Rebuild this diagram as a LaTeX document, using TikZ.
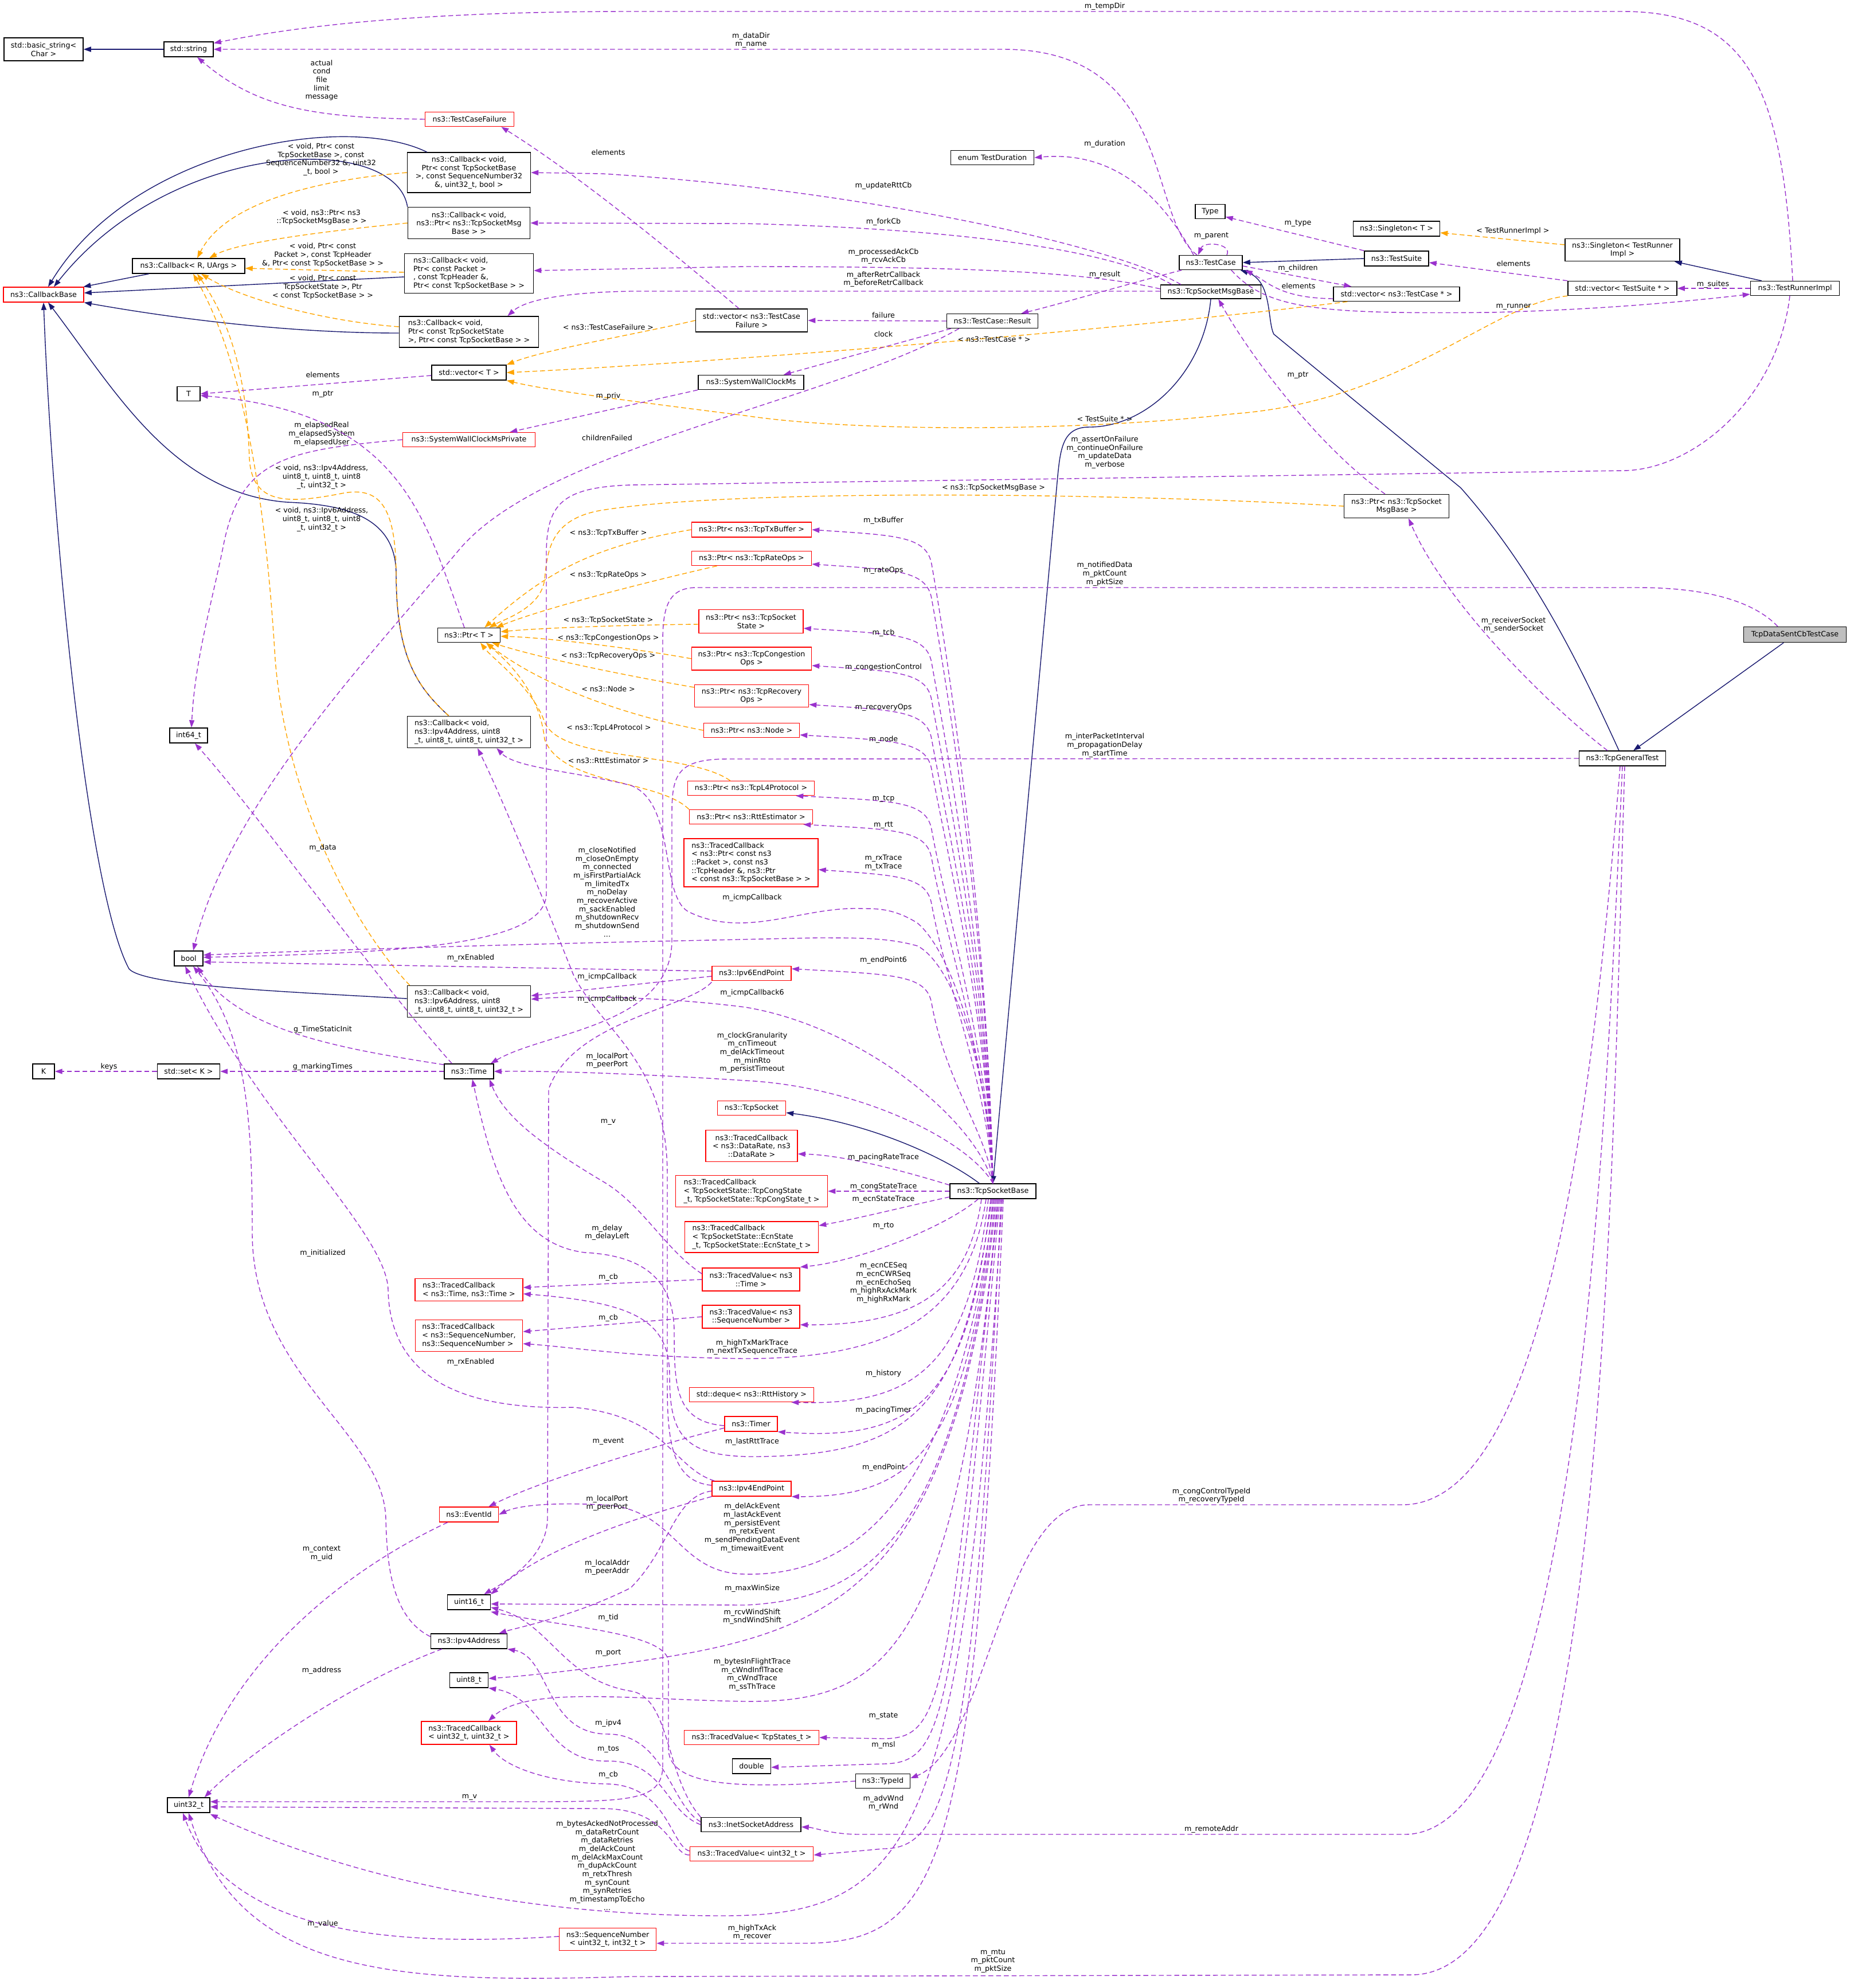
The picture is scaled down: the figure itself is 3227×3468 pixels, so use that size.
\documentclass[tikz,border=0pt]{standalone}
\usepackage{fontspec}
\setmainfont{DejaVu Sans}
\usepackage{tikz}
\usetikzlibrary{calc,arrows.meta}
\definecolor{edgeblue}{HTML}{191970}
\definecolor{edgepurple}{HTML}{9A32CD}
\definecolor{edgeorange}{HTML}{FFA500}
\definecolor{boxred}{HTML}{FF0000}
\definecolor{boxgray}{HTML}{BFBFBF}
\newcommand{\gvfont}{\fontsize{3.6pt}{4.17pt}\selectfont}
\tikzset{
    >={Triangle[length=0.13cm,width=0.09cm]},
    sz/.style 2 args={minimum width=#1cm, minimum height=#2cm},
    cls/.style={
      rectangle,
      draw=black, line width=0.4pt,
      inner sep=0pt,
      font=\gvfont,
      align=center},
    clsred/.style={cls, draw=boxred},
    clsmain/.style={cls, fill=boxgray},
    lbl/.style={font=\gvfont, align=center, inner sep=0pt},
    inherit/.style={draw=edgeblue, line width=0.4pt, ->},
    member/.style={draw=edgepurple, line width=0.4pt, dash pattern=on 0.085cm off 0.05cm, ->},
    templ/.style={draw=edgeorange, line width=0.4pt, dash pattern=on 0.085cm off 0.05cm, ->},
}
\begin{document}
\begin{tikzpicture}[x=0.01cm, y=-0.01cm]
\useasboundingbox (0,0) rectangle (3227,3468);
% classes, left part
\node[cls, sz={1.38}{0.40}] (basicstr) at (76,86) {std::basic\_string<\\Char >};
\node[cls, sz={0.86}{0.26}] (str) at (329,86) {std::string};
\node[clsred, sz={1.55}{0.25}] (tcfail) at (819,208) {ns3::TestCaseFailure};
\node[cls, sz={2.15}{0.70}] (cbseq) at (818,301) {ns3::Callback< void,\\Ptr< const TcpSocketBase\\>, const SequenceNumber32\\\&, uint32\_t, bool >};
\node[cls, sz={2.13}{0.55}] (cbmsg) at (818,389) {ns3::Callback< void,\\ns3::Ptr< ns3::TcpSocketMsg\\Base > >};
\node[cls, sz={1.96}{0.26}] (cbgen) at (329,464) {ns3::Callback< R, UArgs >};
\node[cls, sz={2.25}{0.69}, align=left] (cbpkt) at (818,477) {ns3::Callback< void,\\ Ptr< const Packet >\\, const TcpHeader \&,\\ Ptr< const TcpSocketBase > >};
\node[clsred, sz={1.40}{0.26}] (cbbase) at (76,514) {ns3::CallbackBase};
\node[cls, sz={2.43}{0.54}, align=left] (cbstate) at (818,579) {ns3::Callback< void,\\ Ptr< const TcpSocketState\\ >, Ptr< const TcpSocketBase > >};
\node[cls, sz={1.30}{0.26}] (vecT) at (818,650) {std::vector< T >};
\node[cls, sz={0.40}{0.25}] (tT) at (329,687) {T};
\node[clsred, sz={2.31}{0.25}] (swcpriv) at (818,767) {ns3::SystemWallClockMsPrivate};
\node[cls, sz={1.09}{0.25}] (ptrT) at (818,1108) {ns3::Ptr< T >};
\node[cls, sz={0.66}{0.26}] (int64) at (329,1283) {int64\_t};
\node[cls, sz={2.15}{0.55}, align=left] (cbipv4) at (818,1277) {ns3::Callback< void,\\ ns3::Ipv4Address, uint8\\\_t, uint8\_t, uint8\_t, uint32\_t >};
\node[cls, sz={0.50}{0.26}] (bool) at (329,1672) {bool};
\node[cls, sz={2.15}{0.55}, align=left] (cbipv6) at (818,1747) {ns3::Callback< void,\\ ns3::Ipv6Address, uint8\\\_t, uint8\_t, uint8\_t, uint32\_t >};
\node[cls, sz={0.38}{0.26}] (K) at (76,1869) {K};
\node[cls, sz={1.09}{0.26}] (setK) at (329,1869) {std::set< K >};
\node[cls, sz={0.86}{0.26}] (time) at (818,1869) {ns3::Time};
\node[clsred, sz={1.88}{0.39}, align=left] (tcbtime) at (818,2250) {ns3::TracedCallback\\< ns3::Time, ns3::Time >};
\node[clsred, sz={1.87}{0.55}, align=left] (tcbseq) at (818,2330) {ns3::TracedCallback\\< ns3::SequenceNumber,\\ns3::SequenceNumber >};
\node[clsred, sz={1.03}{0.26}] (eventid) at (818,2642) {ns3::EventId};
\node[cls, sz={0.75}{0.26}] (uint16) at (818,2795) {uint16\_t};
\node[cls, sz={1.33}{0.26}] (ipv4addr) at (818,2863) {ns3::Ipv4Address};
\node[cls, sz={0.67}{0.26}] (uint8) at (818,2931) {uint8\_t};
\node[clsred, sz={1.66}{0.40}, align=left] (tcbu32) at (818,3023) {ns3::TracedCallback\\< uint32\_t, uint32\_t >};
\node[cls, sz={0.74}{0.26}] (uint32) at (329,3149) {uint32\_t};
\node[clsred, sz={1.69}{0.39}] (seqnum) at (1060,3383) {ns3::SequenceNumber\\< uint32\_t, int32\_t >};
% classes, middle column
\node[cls, sz={1.95}{0.40}] (vectcf) at (1311,559) {std::vector< ns3::TestCase\\Failure >};
\node[cls, sz={1.84}{0.25}] (swc) at (1310,667) {ns3::SystemWallClockMs};
\node[clsred, sz={2.09}{0.26}] (ptrtx) at (1311,924) {ns3::Ptr< ns3::TcpTxBuffer >};
\node[clsred, sz={2.09}{0.25}] (ptrrate) at (1311,974) {ns3::Ptr< ns3::TcpRateOps >};
\node[clsred, sz={1.82}{0.41}] (ptrstate) at (1310,1084) {ns3::Ptr< ns3::TcpSocket\\State >};
\node[clsred, sz={2.09}{0.40}] (ptrcong) at (1311,1149) {ns3::Ptr< ns3::TcpCongestion\\Ops >};
\node[clsred, sz={1.99}{0.39}] (ptrrec) at (1311,1214) {ns3::Ptr< ns3::TcpRecovery\\Ops >};
\node[clsred, sz={1.67}{0.25}] (ptrnode) at (1311,1274) {ns3::Ptr< ns3::Node >};
\node[clsred, sz={2.21}{0.25}] (ptrl4) at (1310,1375) {ns3::Ptr< ns3::TcpL4Protocol >};
\node[clsred, sz={2.15}{0.25}] (ptrrtt) at (1310,1425) {ns3::Ptr< ns3::RttEstimator >};
\node[clsred, sz={2.34}{0.84}, align=left] (tcbpkt) at (1310,1505) {ns3::TracedCallback\\< ns3::Ptr< const ns3\\::Packet >, const ns3\\::TcpHeader \&, ns3::Ptr\\< const ns3::TcpSocketBase > >};
\node[clsred, sz={1.38}{0.25}] (ipv6ep) at (1311,1698) {ns3::Ipv6EndPoint};
\node[clsred, sz={1.19}{0.25}] (tcpsock) at (1311,1933) {ns3::TcpSocket};
\node[clsred, sz={1.60}{0.55}] (tcbrate) at (1311,1999) {ns3::TracedCallback\\< ns3::DataRate, ns3\\::DataRate >};
\node[clsred, sz={2.65}{0.55}, align=left] (tcbcong) at (1311,2078) {ns3::TracedCallback\\< TcpSocketState::TcpCongState\\\_t, TcpSocketState::TcpCongState\_t >};
\node[clsred, sz={2.33}{0.54}, align=left] (tcbecn) at (1311,2158) {ns3::TracedCallback\\< TcpSocketState::EcnState\\\_t, TcpSocketState::EcnState\_t >};
\node[clsred, sz={1.70}{0.40}] (tvtime) at (1310,2232) {ns3::TracedValue< ns3\\::Time >};
\node[clsred, sz={1.70}{0.40}] (tvseq) at (1310,2297) {ns3::TracedValue< ns3\\::SequenceNumber >};
\node[clsred, sz={2.17}{0.25}] (deque) at (1311,2433) {std::deque< ns3::RttHistory >};
\node[clsred, sz={0.92}{0.26}] (timer) at (1310,2484) {ns3::Timer};
\node[clsred, sz={1.38}{0.26}] (ipv4ep) at (1311,2597) {ns3::Ipv4EndPoint};
\node[clsred, sz={2.35}{0.25}] (tvstates) at (1311,3031) {ns3::TracedValue< TcpStates\_t >};
\node[cls, sz={0.67}{0.26}] (double) at (1311,3081) {double};
\node[cls, sz={1.74}{0.25}] (inetaddr) at (1310,3183) {ns3::InetSocketAddress};
\node[clsred, sz={2.15}{0.25}] (tvu32) at (1311,3234) {ns3::TracedValue< uint32\_t >};
% classes, right part
\node[cls, sz={1.45}{0.25}] (duration) at (1731,275) {enum TestDuration};
\node[cls, sz={1.59}{0.25}] (result) at (1731,560) {ns3::TestCase::Result};
\node[cls, sz={1.50}{0.26}] (tsb) at (1732,2078) {ns3::TcpSocketBase};
\node[cls, sz={0.95}{0.25}] (typeid) at (1540,3107) {ns3::TypeId};
\node[cls, sz={0.52}{0.25}] (Type) at (2111,369) {Type};
\node[cls, sz={1.10}{0.25}] (testcase) at (2112,458) {ns3::TestCase};
\node[cls, sz={1.75}{0.24}] (msgbase) at (2112,509) {ns3::TcpSocketMsgBase};
\node[cls, sz={1.51}{0.26}] (singT) at (2436,399) {ns3::Singleton< T >};
\node[cls, sz={1.12}{0.26}] (testsuite) at (2436,451) {ns3::TestSuite};
\node[cls, sz={2.20}{0.25}] (vectc) at (2436,513) {std::vector< ns3::TestCase * >};
\node[cls, sz={1.83}{0.41}] (ptrmsg) at (2436,883) {ns3::Ptr< ns3::TcpSocket\\MsgBase >};
\node[cls, sz={2.00}{0.39}] (singR) at (2830,436) {ns3::Singleton< TestRunner\\Impl >};
\node[cls, sz={1.90}{0.25}] (vects) at (2830,503) {std::vector< TestSuite * >};
\node[cls, sz={1.51}{0.26}] (gentest) at (2830,1323) {ns3::TcpGeneralTest};
\node[cls, sz={1.55}{0.25}] (runner) at (3131,503) {ns3::TestRunnerImpl};
\node[clsmain, sz={1.79}{0.27}] (sentcb) at (3131,1107) {TcpDataSentCbTestCase};
% inheritance
\draw[inherit] (str.west) -- (basicstr.east);
\draw[inherit] (cbgen) -- (cbbase);
\draw[inherit] ($(cbseq.north west)+(35,0)$) .. controls (600,195) and (230,260) .. ($(cbbase.north)+(8,0)$);
\draw[inherit] (cbmsg.north west) .. controls (690,230) and (300,240) .. ($(cbbase.north)+(18,0)$);
\draw[inherit] ($(cbpkt.west)+(0,6)$) -- ($(cbbase.east)+(0,-3)$);
\draw[inherit] ($(cbstate.west)+(0,2)$) .. controls (500,581) and (300,555) .. (cbbase.south east);
\draw[inherit] ($(cbipv4.north west)+(73,0)$) .. controls (730,1200) and (691,1150) .. (691,1000) .. controls (690,900) and (600,880) .. (500,876) .. controls (300,860) and (200,680) .. ($(cbbase.south)+(8,0)$);
\draw[inherit] ($(cbipv6.west)+(0,-5)$) .. controls (500,1730) and (250,1720) .. (225,1690) .. controls (150,1550) and (90,900) .. (cbbase.south);
\draw[inherit] ($(tsb.north west)+(52,0)$) .. controls (1650,2020) and (1520,1960) .. ($(tcpsock.east)+(0,8)$);
\draw[inherit] (msgbase.south) .. controls (2100,650) and (2000,745) .. (1900,745) .. controls (1855,745) and (1850,780) .. (1845,830) -- (tsb.north);
\draw[inherit] (testsuite.west) -- (testcase.east);
\draw[inherit] ($(gentest.north)+(-6,0)$) .. controls (2760,1170) and (2680,1000) .. (2548,851) -- (2222,583) .. controls (2210,560) and (2220,490) .. ($(testcase.south east)+(-4,0)$);
\draw[inherit] (sentcb) -- (gentest);
\draw[inherit] ($(runner.north west)+(20,0)$) -- ($(singR.south east)+(-10,0)$);
% template instances
\draw[templ] (cbseq.west) .. controls (600,310) and (400,340) .. ($(cbgen.north)+(15,0)$) node[lbl] at (560,278) {< void, Ptr< const\\TcpSocketBase >, const\\SequenceNumber32 \&, uint32\\\_t, bool >};
\draw[templ] (cbmsg.west) .. controls (600,400) and (420,420) .. ($(cbgen.north)+(36,0)$) node[lbl] at (561,379) {< void, ns3::Ptr< ns3\\::TcpSocketMsgBase > >};
\draw[templ] ($(cbpkt.west)+(0,-2)$) -- ($(cbgen.east)+(0,4)$) node[lbl] at (563,445) {< void, Ptr< const\\Packet >, const TcpHeader\\\&, Ptr< const TcpSocketBase > >};
\draw[templ] ($(cbstate.west)+(0,-9)$) .. controls (560,560) and (420,520) .. ($(cbgen.south)+(22,0)$) node[lbl] at (563,501) {< void, Ptr< const\\TcpSocketState >, Ptr\\< const TcpSocketBase > >};
\draw[templ] ($(cbipv4.north west)+(73,0)$) .. controls (730,1200) and (692,1150) .. (691,1000) .. controls (690,880) and (660,850) .. (600,860) .. controls (500,880) and (440,880) .. (435,800) .. controls (430,650) and (400,560) .. ($(cbgen.south)+(15,0)$) node[lbl] at (561,832) {< void, ns3::Ipv4Address,\\uint8\_t, uint8\_t, uint8\\\_t, uint32\_t >};
\draw[templ] ($(cbipv6.north west)+(5,0)$) .. controls (620,1620) and (500,1400) .. (480,1150) .. controls (465,900) and (430,640) .. ($(cbgen.south)+(8,0)$) node[lbl] at (561,906) {< void, ns3::Ipv6Address,\\uint8\_t, uint8\_t, uint8\\\_t, uint32\_t >};
\draw[templ] (vectcf.west) .. controls (1100,585) and (950,610) .. (vecT.north east) node[lbl] at (1061,571) {< ns3::TestCaseFailure >};
\draw[templ] ($(vectc.south west)+(25,0)$) .. controls (2000,570) and (1300,630) .. (vecT.east) node[lbl] at (1734,592) {< ns3::TestCase * >};
\draw[templ] (vects.south west) .. controls (2600,530) and (2450,700) .. (2150,722) .. controls (1900,752) and (1500,755) .. (1300,725) .. controls (1100,700) and (950,680) .. (vecT.south east) node[lbl] at (1927,731) {< TestSuite * >};
\draw[templ] ($(singR.west)+(0,-9)$) -- ($(singT.east)+(0,7)$) node[lbl] at (2639,403) {< TestRunnerImpl >};
\draw[templ] (ptrmsg.west) .. controls (2000,862) and (1300,850) .. (1050,890) .. controls (960,905) and (955,960) .. (950,1010) .. controls (945,1060) and (880,1080) .. ($(ptrT.north east)+(-20,0)$) node[lbl] at (1733,851) {< ns3::TcpSocketMsgBase >};
\draw[templ] (ptrtx.west) .. controls (1050,950) and (960,990) .. ($(ptrT.north east)+(-28,0)$) node[lbl] at (1061,930) {< ns3::TcpTxBuffer >};
\draw[templ] ($(ptrrate.south west)+(45,0)$) .. controls (1150,1010) and (950,1060) .. ($(ptrT.north east)+(-8,0)$) node[lbl] at (1061,1003) {< ns3::TcpRateOps >};
\draw[templ] ($(ptrstate.west)+(0,5)$) .. controls (1100,1090) and (950,1095) .. ($(ptrT.east)+(0,-6)$) node[lbl] at (1061,1082) {< ns3::TcpSocketState >};
\draw[templ] (ptrcong.west) .. controls (1100,1130) and (950,1112) .. ($(ptrT.east)+(0,2)$) node[lbl] at (1061,1113) {< ns3::TcpCongestionOps >};
\draw[templ] ($(ptrrec.west)+(0,-15)$) .. controls (1100,1180) and (950,1150) .. ($(ptrT.south east)+(-15,0)$) node[lbl] at (1061,1144) {< ns3::TcpRecoveryOps >};
\draw[templ] (ptrnode.west) .. controls (1100,1250) and (950,1200) .. ($(ptrT.south east)+(-25,0)$) node[lbl] at (1061,1202) {< ns3::Node >};
\draw[templ] ($(ptrl4.north west)+(75,0)$) .. controls (1200,1310) and (980,1330) .. (950,1260) .. controls (930,1200) and (860,1150) .. ($(ptrT.south)+(20,0)$) node[lbl] at (1062,1270) {< ns3::TcpL4Protocol >};
\draw[templ] (ptrrtt.north west) .. controls (1150,1360) and (980,1370) .. (950,1290) .. controls (940,1200) and (880,1150) .. ($(ptrT.south)+(30,0)$) node[lbl] at (1061,1327) {< ns3::RttEstimator >};
% members, test framework
\draw[member] (tcfail.west) .. controls (550,205) and (450,190) .. ($(str.south)+(15,0)$) node[lbl] at (561,140) {actual\\cond\\file\\limit\\message};
\draw[member] ($(testcase.north)+(-24,0)$) .. controls (2000,380) and (2050,86) .. (1750,86) -- (str.east) node[lbl] at (1310,70) {m\_dataDir\\m\_name};
\draw[member] ($(runner.north)+(-4,0)$) .. controls (3110,150) and (3050,20) .. (2830,20) -- (1100,20) .. controls (700,20) and (500,50) .. ($(str.north east)+(0,3)$) node[lbl] at (1927,11) {m\_tempDir};
\draw[member] ($(testcase.north)+(-30,0)$) .. controls (2030,350) and (1950,262) .. (duration.east) node[lbl] at (1927,251) {m\_duration};
\draw[member] (testsuite.north west) -- ($(Type.south east)+(0,-4)$) node[lbl] at (2264,390) {m\_type};
\draw[member] ($(testcase.north)+(28,0)$) .. controls (2150,425) and (2100,420) .. ($(testcase.north)+(-22,0)$) node[lbl] at (2113,412) {m\_parent};
\draw[member] ($(testcase.east)+(0,6)$) -- ($(vectc.north west)+(32,0)$) node[lbl] at (2264,468) {m\_children};
\draw[member] ($(vectc.west)+(0,8)$) .. controls (2230,520) and (2210,490) .. ($(testcase.south east)+(4,0)$) node[lbl] at (2265,499) {elements};
\draw[member] ($(testcase.south west)+(5,0)$) .. controls (1950,500) and (1850,530) .. ($(result.north east)+(-30,0)$) node[lbl] at (1927,479) {m\_result};
\draw[member] ($(testcase.south east)+(-20,0)$) .. controls (2210,540) and (2300,548) .. (2600,545) .. controls (2800,540) and (2950,525) .. ($(runner.south west)+(0,-3)$) node[lbl] at (2640,535) {m\_runner};
\draw[member] (runner.west) -- (vects.east) node[lbl] at (2988,496) {m\_suites};
\draw[member] (vects.north west) -- ($(testsuite.east)+(0,7)$) node[lbl] at (2640,460) {elements};
\draw[member] (result.west) -- (vectcf.east) node[lbl] at (1541,550) {failure};
\draw[member] ($(result.south west)+(8,0)$) -- ($(swc.north east)+(-36,0)$) node[lbl] at (1541,583) {clock};
\draw[member] ($(result.south west)+(22,0)$) .. controls (1450,700) and (950,780) .. (800,960) .. controls (650,1140) and (400,1400) .. ($(bool.north)+(8,0)$) node[lbl] at (1059,764) {childrenFailed};
\draw[member] (swc.south west) -- ($(swcpriv.north east)+(-45,0)$) node[lbl] at (1061,691) {m\_priv};
\draw[member] (swcpriv.west) .. controls (500,785) and (420,800) .. (390,950) .. controls (370,1050) and (340,1150) .. ($(int64.north)+(5,0)$) node[lbl] at (561,757) {m\_elapsedReal\\m\_elapsedSystem\\m\_elapsedUser};
\draw[member] ($(vectcf.north)+(-22,0)$) .. controls (1150,420) and (1000,300) .. ($(tcfail.south east)+(-23,0)$) node[lbl] at (1061,266) {elements};
\draw[member] ($(vecT.west)+(0,5)$) -- (tT.east) node[lbl] at (563,654) {elements};
\draw[member] ($(ptrT.north)+(-8,0)$) .. controls (740,900) and (700,720) .. ($(tT.east)+(0,3)$) node[lbl] at (563,688) {m\_ptr};
\draw[member] ($(runner.south)+(-9,0)$) .. controls (3100,700) and (2950,821) .. (2830,821) -- (1100,846) .. controls (980,850) and (955,880) .. (953,960) -- (953,1560) .. controls (950,1650) and (700,1662) .. ($(bool.east)+(0,-2)$) node[lbl] at (1927,789) {m\_assertOnFailure\\m\_continueOnFailure\\m\_updateData\\m\_verbose};
% members, socket message base and tests
\draw[member] ($(msgbase.north west)+(36,0)$) .. controls (1950,430) and (1500,330) .. (1050,303) -- (cbseq.east) node[lbl] at (1541,324) {m\_updateRttCb};
\draw[member] ($(msgbase.north west)+(20,0)$) .. controls (1950,440) and (1700,400) .. (1300,390) -- (cbmsg.east) node[lbl] at (1541,387) {m\_forkCb};
\draw[member] ($(msgbase.west)+(0,-5)$) .. controls (1900,475) and (1700,465) .. (1300,465) -- ($(cbpkt.east)+(0,-5)$) node[lbl] at (1541,447) {m\_processedAckCb\\m\_rcvAckCb};
\draw[member] ($(msgbase.west)+(0,-1)$) -- (1100,508) .. controls (1000,510) and (920,520) .. ($(cbstate.north east)+(-55,0)$) node[lbl] at (1541,487) {m\_afterRetrCallback\\m\_beforeRetrCallback};
\draw[member] ($(ptrmsg.north)+(-20,0)$) .. controls (2300,780) and (2180,620) .. ($(msgbase.south east)+(-75,0)$) node[lbl] at (2264,655) {m\_ptr};
\draw[member] ($(gentest.north)+(-26,0)$) .. controls (2700,1230) and (2520,1050) .. ($(ptrmsg.south)+(21,0)$) node[lbl] at (2640,1090) {m\_receiverSocket\\m\_senderSocket};
\draw[member] ($(sentcb.north)+(-30,0)$) .. controls (3060,1050) and (2980,1025) .. (2857,1025) -- (1215,1025) .. controls (1165,1025) and (1156,1060) .. (1156,1120) -- (1156,3080) .. controls (1156,3140) and (1100,3142) .. (950,3143) -- ($(uint32.east)+(0,-6)$) node[lbl] at (1927,1001) {m\_notifiedData\\m\_pktCount\\m\_pktSize};
\draw[member] (gentest.west) -- (1270,1324) .. controls (1182,1324) and (1172,1350) .. (1172,1420) -- (1172,1640) .. controls (1172,1790) and (950,1800) .. ($(time.north east)+(-6,0)$) node[lbl] at (1927,1300) {m\_interPacketInterval\\m\_propagationDelay\\m\_startTime};
% members, time and endpoints
\draw[member] (time.west) -- (setK.east) node[lbl] at (563,1861) {g\_markingTimes};
\draw[member] (setK.west) -- (K.east) node[lbl] at (190,1861) {keys};
\draw[member] ($(time.north west)+(0,2)$) .. controls (600,1830) and (420,1800) .. ($(bool.south)+(15,0)$) node[lbl] at (563,1796) {g\_TimeStaticInit};
\draw[member] ($(time.north west)+(14,0)$) .. controls (650,1700) and (450,1420) .. ($(int64.south)+(11,0)$) node[lbl] at (563,1479) {m\_data};
\draw[member] ($(ipv6ep.west)+(0,-4)$) .. controls (1100,1692) and (600,1682) .. ($(bool.east)+(0,6)$) node[lbl] at (821,1671) {m\_rxEnabled};
\draw[member] ($(ipv6ep.west)+(0,5)$) -- ($(cbipv6.east)+(0,-10)$) node[lbl] at (1059,1704) {m\_icmpCallback};
\draw[member] ($(ipv6ep.south west)+(0,2)$) .. controls (1200,1760) and (1000,1780) .. (957,1900) -- (955,2650) .. controls (953,2720) and (880,2760) .. ($(uint16.north east)+(-12,0)$) node[lbl] at (1059,1850) {m\_localPort\\m\_peerPort};
% members of the socket, upwards
\draw[member] (tsb.north) .. controls (1722,1594) and (1650,1124) .. (1625,984) .. controls (1616,934) and (1560,934) .. (ptrtx.east) node[lbl] at (1541,908) {m\_txBuffer};
\draw[member] (tsb.north) .. controls (1722,1624) and (1650,1184) .. (1625,1044) .. controls (1616,994) and (1560,994) .. ($(ptrrate.east)+(0,10)$) node[lbl] at (1541,995) {m\_rateOps};
\draw[member] (tsb.north) .. controls (1722,1680) and (1650,1296) .. (1625,1156) .. controls (1616,1106) and (1560,1106) .. ($(ptrstate.east)+(0,12)$) node[lbl] at (1541,1104) {m\_tcb};
\draw[member] (tsb.north) .. controls (1722,1713) and (1650,1361) .. (1625,1221) .. controls (1616,1171) and (1560,1171) .. ($(ptrcong.east)+(0,12)$) node[lbl] at (1541,1164) {m\_congestionControl};
\draw[member] (tsb.north) .. controls (1722,1747) and (1650,1429) .. (1625,1289) .. controls (1616,1239) and (1560,1239) .. ($(ptrrec.east)+(0,15)$) node[lbl] at (1541,1234) {m\_recoveryOps};
\draw[member] (tsb.north) .. controls (1722,1773) and (1650,1482) .. (1625,1342) .. controls (1616,1292) and (1560,1292) .. ($(ptrnode.east)+(0,8)$) node[lbl] at (1541,1290) {m\_node};
\draw[member] (tsb.north) .. controls (1722,1826) and (1650,1587) .. (1625,1447) .. controls (1616,1397) and (1560,1397) .. ($(ptrl4.south east)+(-33,0)$) node[lbl] at (1541,1394) {m\_tcp};
\draw[member] (tsb.north) .. controls (1722,1851) and (1650,1637) .. (1625,1497) .. controls (1616,1447) and (1560,1447) .. ($(ptrrtt.south east)+(-17,0)$) node[lbl] at (1541,1440) {m\_rtt};
\draw[member] (tsb.north) .. controls (1722,1891) and (1650,1717) .. (1625,1577) .. controls (1616,1527) and (1560,1527) .. ($(tcbpkt.east)+(0,12)$) node[lbl] at (1541,1505) {m\_rxTrace\\m\_txTrace};
\draw[member] (tsb.north) .. controls (1722,1850) and (1660,1660) .. (1600,1610) .. controls (1560,1585) and (1530,1585) .. (1506,1585) .. controls (1400,1580) and (1300,1640) .. (1200,1590) .. controls (1150,1560) and (1180,1400) .. (1100,1370) .. controls (1000,1345) and (900,1340) .. ($(cbipv4.south east)+(-60,0)$) node[lbl] at (1312,1566) {m\_icmpCallback};
\draw[member] (tsb.north) .. controls (1722,1850) and (1660,1680) .. (1600,1650) .. controls (1550,1636) and (1500,1636) .. (1425,1636) -- (1100,1643) .. controls (800,1650) and (500,1660) .. ($(bool.east)+(0,-6)$) node[lbl] at (1059,1556) {m\_closeNotified\\m\_closeOnEmpty\\m\_connected\\m\_isFirstPartialAck\\m\_limitedTx\\m\_noDelay\\m\_recoverActive\\m\_sackEnabled\\m\_shutdownRecv\\m\_shutdownSend\\...};
\draw[member] (tsb.north) .. controls (1722,1977) and (1650,1890) .. (1625,1750) .. controls (1616,1700) and (1560,1700) .. ($(ipv6ep.east)+(0,-8)$) node[lbl] at (1541,1675) {m\_endPoint6};
\draw[member] (tsb.north) .. controls (1700,1950) and (1500,1790) .. (1300,1757) .. controls (1150,1738) and (1000,1737) .. ($(cbipv6.east)+(0,-4)$) node[lbl] at (1312,1732) {m\_icmpCallback6};
\draw[member] (tsb.north) .. controls (1690,1990) and (1500,1895) .. (1300,1885) .. controls (1100,1872) and (950,1868) .. (time.east) node[lbl] at (1312,1836) {m\_clockGranularity\\m\_cnTimeout\\m\_delAckTimeout\\m\_minRto\\m\_persistTimeout};
% members of the socket, sideways and downwards
\draw[member] ($(tsb.north west)+(0,3)$) .. controls (1600,2050) and (1480,2015) .. ($(tcbrate.east)+(0,14)$) node[lbl] at (1541,2019) {m\_pacingRateTrace};
\draw[member] (tsb.west) -- (tcbcong.east) node[lbl] at (1541,2070) {m\_congStateTrace};
\draw[member] ($(tsb.west)+(0,10)$) .. controls (1600,2100) and (1500,2125) .. ($(tcbecn.east)+(0,-20)$) node[lbl] at (1541,2092) {m\_ecnStateTrace};
\draw[member] ($(tsb.south west)+(50,0)$) .. controls (1650,2140) and (1500,2200) .. ($(tvtime.north east)+(0,-1)$) node[lbl] at (1541,2139) {m\_rto};
\draw[member] ($(tsb.south)+(-20,0)$) .. controls (1690,2250) and (1600,2312) .. ($(tvseq.east)+(0,14)$) node[lbl] at (1541,2238) {m\_ecnCESeq\\m\_ecnCWRSeq\\m\_ecnEchoSeq\\m\_highRxAckMark\\m\_highRxMark};
\draw[member] ($(tsb.south)+(-12,0)$) .. controls (1690,2300) and (1550,2370) .. (1300,2370) .. controls (1100,2368) and (1000,2350) .. ($(tcbseq.east)+(0,14)$) node[lbl] at (1312,2350) {m\_highTxMarkTrace\\m\_nextTxSequenceTrace};
\draw[member] ($(tsb.south)+(-8,0)$) .. controls (1690,2380) and (1600,2452) .. ($(deque.south east)+(-40,0)$) node[lbl] at (1541,2396) {m\_history};
\draw[member] ($(tsb.south)+(-4,0)$) .. controls (1690,2440) and (1600,2515) .. (timer.south east) node[lbl] at (1541,2460) {m\_pacingTimer};
\draw[member] ($(tsb.south)+(-2,0)$) .. controls (1680,2450) and (1600,2541) .. (1310,2541) .. controls (1190,2540) and (1168,2500) .. (1168,2400) .. controls (1168,2300) and (1100,2272) .. ($(tcbtime.east)+(0,7)$) node[lbl] at (1312,2515) {m\_lastRttTrace};
\draw[member] (tsb.south) .. controls (1690,2520) and (1600,2612) .. (ipv4ep.south east) node[lbl] at (1541,2560) {m\_endPoint};
\draw[member] ($(tsb.south)+(2,0)$) .. controls (1670,2600) and (1500,2750) .. (1300,2746) .. controls (1180,2745) and (1180,2630) .. (1050,2625) .. controls (950,2620) and (900,2628) .. (eventid.east) node[lbl] at (1312,2665) {m\_delAckEvent\\m\_lastAckEvent\\m\_persistEvent\\m\_retxEvent\\m\_sendPendingDataEvent\\m\_timewaitEvent};
\draw[member] ($(tsb.south)+(4,0)$) .. controls (1670,2700) and (1500,2790) .. (1300,2800) -- ($(uint16.east)+(0,3)$) node[lbl] at (1312,2771) {m\_maxWinSize};
\draw[member] ($(tsb.south)+(6,0)$) .. controls (1665,2780) and (1450,2850) .. (1100,2900) .. controls (1000,2915) and (900,2925) .. ($(uint8.east)+(0,-3)$) node[lbl] at (1312,2820) {m\_rcvWindShift\\m\_sndWindShift};
\draw[member] ($(tsb.south)+(8,0)$) .. controls (1670,2880) and (1550,2970) .. (1300,2968) .. controls (1100,2965) and (920,2940) .. ($(tcbu32.north east)+(-50,0)$) node[lbl] at (1312,2921) {m\_bytesInFlightTrace\\m\_cWndInflTrace\\m\_cWndTrace\\m\_ssThTrace};
\draw[member] ($(tsb.south)+(10,0)$) .. controls (1650,2950) and (1650,3033) .. (1541,3033) -- (tvstates.east) node[lbl] at (1541,2994) {m\_state};
\draw[member] ($(tsb.south)+(12,0)$) .. controls (1660,3000) and (1650,3075) .. (1541,3077) -- ($(double.east)+(0,2)$) node[lbl] at (1541,3044) {m\_msl};
\draw[member] ($(tsb.south)+(14,0)$) .. controls (1700,3100) and (1650,3225) .. (1541,3225) -- ($(tvu32.east)+(0,2)$) node[lbl] at (1541,3145) {m\_advWnd\\m\_rWnd};
\draw[member] ($(tsb.south)+(16,0)$) .. controls (1680,3200) and (1600,3342) .. (1260,3342) .. controls (900,3342) and (600,3270) .. ($(uint32.south east)+(0,2)$) node[lbl] at (1059,3254) {m\_bytesAckedNotProcessed\\m\_dataRetrCount\\m\_dataRetries\\m\_delAckCount\\m\_delAckMaxCount\\m\_dupAckCount\\m\_retxThresh\\m\_synCount\\m\_synRetries\\m\_timestampToEcho\\...};
\draw[member] ($(tsb.south)+(18,0)$) .. controls (1700,3250) and (1650,3390) .. (1400,3390) -- ($(seqnum.east)+(0,7)$) node[lbl] at (1312,3371) {m\_highTxAck\\m\_recover};
% members of the general test, downwards
\draw[member] ($(gentest.south)+(-4,0)$) .. controls (2780,1900) and (2700,2625) .. (2446,2625) -- (1900,2625) .. controls (1750,2625) and (1720,3050) .. ($(typeid.east)+(0,-5)$) node[lbl] at (2113,2609) {m\_congControlTypeId\\m\_recoveryTypeId};
\draw[member] (gentest.south) .. controls (2800,2000) and (2750,3200) .. (2450,3200) -- (1500,3200) .. controls (1450,3200) and (1420,3188) .. ($(inetaddr.east)+(0,4)$) node[lbl] at (2113,3191) {m\_remoteAddr};
\draw[member] ($(gentest.south)+(4,0)$) .. controls (2810,2100) and (2800,3445) .. (2462,3445) -- (1100,3448) .. controls (700,3460) and (420,3450) .. (uint32.south) node[lbl] at (1732,3421) {m\_mtu\\m\_pktCount\\m\_pktSize};
% members of traced values, timers and addresses
\draw[member] (tvtime.west) -- ($(tcbtime.east)+(0,-4)$) node[lbl] at (1061,2228) {m\_cb};
\draw[member] ($(tvtime.west)+(0,-10)$) .. controls (1160,2180) and (1120,2100) .. (1050,2060) .. controls (950,2000) and (880,1950) .. ($(time.south east)+(-8,0)$) node[lbl] at (1061,1957) {m\_v};
\draw[member] (tvseq.west) -- ($(tcbseq.east)+(0,-7)$) node[lbl] at (1061,2299) {m\_cb};
\draw[member] ($(timer.west)+(0,3)$) .. controls (1178,2480) and (1176,2420) .. (1176,2320) .. controls (1174,2230) and (1120,2190) .. (1020,2185) .. controls (900,2170) and (860,2050) .. ($(time.south)+(6,0)$) node[lbl] at (1059,2150) {m\_delay\\m\_delayLeft};
\draw[member] ($(timer.west)+(0,7)$) .. controls (1150,2520) and (950,2580) .. ($(eventid.north east)+(-18,0)$) node[lbl] at (1061,2515) {m\_event};
\draw[member] ($(eventid.south west)+(15,0)$) .. controls (600,2740) and (400,2900) .. (uint32.north) node[lbl] at (561,2710) {m\_context\\m\_uid};
\draw[member] ($(ipv4addr.south west)+(20,0)$) .. controls (600,2940) and (420,3070) .. ($(uint32.north east)+(-10,0)$) node[lbl] at (561,2914) {m\_address};
\draw[member] ($(ipv4addr.west)+(0,-8)$) .. controls (680,2820) and (675,2720) .. (673,2650) .. controls (670,2500) and (440,2400) .. (440,2150) .. controls (440,1950) and (430,1800) .. ($(bool.south)+(8,0)$) node[lbl] at (563,2186) {m\_initialized};
\draw[member] ($(ipv4ep.north west)+(5,0)$) .. controls (1172,2560) and (1165,2470) .. (1000,2455) .. controls (800,2460) and (680,2400) .. (677,2250) .. controls (675,2150) and (450,1950) .. ($(bool.south)+(-6,0)$) node[lbl] at (821,2376) {m\_rxEnabled};
\draw[member] ($(ipv4ep.west)+(0,-6)$) .. controls (1175,2585) and (1164,2520) .. (1164,2420) -- (1164,2050) .. controls (1164,1850) and (1050,1800) .. (1000,1700) .. controls (960,1600) and (880,1400) .. ($(cbipv4.south)+(15,0)$) node[lbl] at (1059,1743) {m\_icmpCallback};
\draw[member] (ipv4ep.south west) .. controls (1100,2650) and (950,2700) .. (uint16.north east) node[lbl] at (1059,2622) {m\_localPort\\m\_peerPort};
\draw[member] ($(ipv4ep.west)+(0,4)$) .. controls (1175,2610) and (1170,2700) .. (1100,2770) .. controls (1000,2820) and (900,2840) .. ($(ipv4addr.north east)+(-15,0)$) node[lbl] at (1059,2734) {m\_localAddr\\m\_peerAddr};
\draw[member] (typeid.west) .. controls (1300,3120) and (1166,3120) .. (1166,3050) -- (1166,2900) .. controls (1166,2850) and (1000,2840) .. ($(uint16.south east)+(0,3)$) node[lbl] at (1061,2822) {m\_tid};
\draw[member] (inetaddr.north west) .. controls (1160,3100) and (1170,2960) .. (1100,2950) .. controls (980,2930) and (960,2830) .. ($(uint16.east)+(0,9)$) node[lbl] at (1061,2884) {m\_port};
\draw[member] ($(inetaddr.west)+(0,-5)$) .. controls (1170,3150) and (1160,3025) .. (1060,3025) .. controls (950,3025) and (960,2890) .. (ipv4addr.south east) node[lbl] at (1061,3006) {m\_ipv4};
\draw[member] (inetaddr.west) .. controls (1160,3160) and (1160,3072) .. (1060,3072) .. controls (950,3075) and (950,2960) .. (uint8.south east) node[lbl] at (1061,3052) {m\_tos};
\draw[member] ($(tvu32.west)+(0,-5)$) .. controls (1170,3220) and (1165,3115) .. (1060,3112) .. controls (950,3110) and (880,3080) .. ($(tcbu32.south east)+(-48,0)$) node[lbl] at (1061,3096) {m\_cb};
\draw[member] ($(tvu32.west)+(0,2)$) .. controls (1170,3236) and (1170,3155) .. (1050,3155) -- ($(uint32.east)+(0,3)$) node[lbl] at (819,3135) {m\_v};
\draw[member] ($(seqnum.west)+(0,-5)$) .. controls (700,3395) and (400,3380) .. ($(uint32.south)+(-10,0)$) node[lbl] at (563,3356) {m\_value};
\end{tikzpicture}
\end{document}
